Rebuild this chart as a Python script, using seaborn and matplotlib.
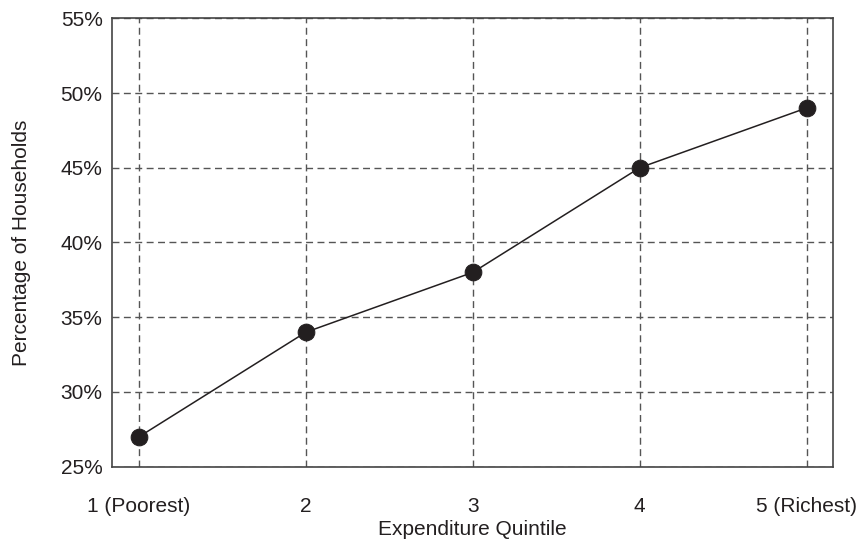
import matplotlib
matplotlib.use("Agg")
import matplotlib.pyplot as plt
import seaborn as sns
import pandas as pd
from matplotlib.ticker import FuncFormatter

quintiles = ["1 (Poorest)", "2", "3", "4", "5 (Richest)"]
pct_households = [27, 34, 38, 45, 49]
y_ticks = [25, 30, 35, 40, 45, 50, 55]

sns.set_theme(style="white")
plt.rcParams['font.family'] = ['Liberation Sans', 'DejaVu Sans']

df = pd.DataFrame({"pos": range(len(quintiles)), "pct": pct_households})

fig = plt.figure(figsize=(8.58, 5.44), dpi=100)
ax = fig.add_axes([0.1309, 0.1421, 0.8403, 0.8243])

sns.lineplot(data=df, x="pos", y="pct", ax=ax, color="#231f20", linewidth=1.1,
             marker="o", markersize=12, markeredgecolor="#231f20",
             markerfacecolor="#231f20", zorder=3)

ax.set_xlim(-0.16, 4.16)
ax.set_ylim(25, 55)
ax.set_xticks(range(len(quintiles)))
ax.set_xticklabels(quintiles)
ax.set_yticks(y_ticks)
ax.yaxis.set_major_formatter(FuncFormatter(lambda v, p: f"{v:.0f}%"))
ax.tick_params(axis="both", length=0, labelsize=15, colors="#231f20", pad=7)
ax.tick_params(axis="x", pad=22)

ax.grid(True, linestyle=(0, (5, 3.2)), color="#555555", linewidth=1.0)
for s in ax.spines.values():
    s.set_color("#444444")
    s.set_linewidth(1.2)

ax.set_xlabel("Expenditure Quintile", fontsize=15, color="#231f20", labelpad=3)
ax.set_ylabel("Percentage of Households", fontsize=15, color="#231f20", labelpad=21)

fig.savefig("out.png", dpi=100)
